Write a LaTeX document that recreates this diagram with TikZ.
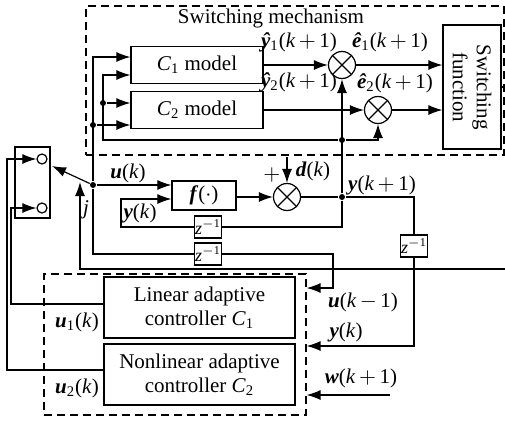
\documentclass[tikz,border=0pt]{standalone}
\usepackage{fontspec}
\setmainfont{Liberation Serif}
\usetikzlibrary{arrows.meta}

\newcommand{\vb}[1]{\textbf{\textit{#1}}}
\newcommand{\vi}[1]{\textit{#1}}

\begin{document}
\begin{tikzpicture}[x=0.5pt,y=-0.5pt,line width=0.6pt,
                    font=\fontsize{10.5}{12}\selectfont]

  \tikzset{
    blk/.style  = {draw, minimum width=66pt, minimum height=18.5pt,
                   inner sep=1pt, align=center},
    ctlb/.style = {blk, minimum width=95.5pt, minimum height=30.5pt},
    grp/.style  = {draw, dash pattern=on 4pt off 2.5pt, inner sep=0pt},
    sum/.style  = {draw, circle, minimum size=13.5pt, inner sep=0pt,
                   path picture={\draw
                     (path picture bounding box.north west) --
                     (path picture bounding box.south east)
                     (path picture bounding box.north east) --
                     (path picture bounding box.south west);}},
    dly/.style  = {draw, minimum width=13.5pt, minimum height=11pt,
                   inner sep=0pt, font=\small},
    jdot/.style = {circle, fill, minimum size=3pt, inner sep=0pt},
    port/.style = {circle, draw, minimum size=5pt, inner sep=0pt},
    arr/.style  = {-{Latex[length=7pt,width=5pt]}},
    lbl/.style  = {inner sep=1pt},
  }

  \useasboundingbox (0,0) rectangle (505,424);

  % ---- switching mechanism ----------------------------------------------
  \node[grp, minimum width=209pt, minimum height=74.5pt] (mech) at (295,80.5) {};
  \node[lbl] (title) at (271,18) {Switching mechanism};

  \node[blk] (c1m) at (197,65)  {\vi{C}\textsubscript{1} model};
  \node[blk] (c2m) at (197,110) {\vi{C}\textsubscript{2} model};
  \node[sum] (s1) at (342,65)  {};
  \node[sum] (s2) at (378,110) {};
  \node[draw, minimum width=29pt, minimum height=62pt] (sw) at (472,87) {};
  \node[rotate=-90, align=center] (swt) at (sw) {Switching\\function};
  \coordinate (swout) at (505,87);

  \node[jdot] (du) at (93,125)  {};
  \node[jdot] (dy) at (103,103) {};
  \node[jdot] (dm) at (342,140) {};
  \coordinate (utop) at (93,57);
  \coordinate (ytop) at (103,75);

  \draw[arr] (du) -- (du -| c2m.west);
  \draw[arr] (dy) -- (dy -| c2m.west);
  \draw[arr] (dm) -| (ytop) -- (ytop -| c1m.west);
  \draw[arr] (dm) -| (s2);
  \draw[arr] (c1m) -- (s1);
  \draw[arr] (c2m) -- (s2);
  \draw[arr] (s1) -- (s1 -| sw.west);
  \draw[arr] (s2) -- (s2 -| sw.west);
  \draw (sw) -- (swout);

  \node[lbl] at (299,42) {\vb{ŷ}\textsubscript{1}(\vi{k}\,$+$\,1)};
  \node[lbl] at (299,82) {\vb{ŷ}\textsubscript{2}(\vi{k}\,$+$\,1)};
  \node[lbl] at (390,42) {\vb{ê}\textsubscript{1}(\vi{k}\,$+$\,1)};
  \node[lbl] at (395,83) {\vb{ê}\textsubscript{2}(\vi{k}\,$+$\,1)};

  % ---- plant and delays -------------------------------------------------
  \node[jdot] (jn) at (93,185) {};
  \node[blk, minimum width=32pt, minimum height=14.5pt] (fb) at (204,195.5) {\vb{f}($\cdot$)};
  \node[sum] (s0) at (287,197) {};
  \node[jdot] (ydot) at (342,197) {};
  \node[dly] (z1) at (208,227) {\vi{z}\textsuperscript{$-$1}};
  \node[dly] (z2) at (208,254) {\vi{z}\textsuperscript{$-$1}};
  \node[dly] (z3) at (414,246) {\vi{z}\textsuperscript{$-$1}};
  \coordinate (dk) at (287,157);
  \coordinate (yk) at (121,199);

  \draw[arr] (jn) -- (utop) -- (utop -| c1m.west);
  \draw[arr] (jn) -- (jn -| fb.west);
  \draw[arr] (fb.east |- s0) -- (s0);
  \draw[arr] (dk) -- (s0);
  \draw (s0) -- (ydot);
  \draw[arr] (ydot) -- (s1);
  \draw (ydot) |- (z1);
  \draw[arr] (z1) -| (yk) -- (yk -| fb.west);
  \draw (ydot) -| (z3);
  \draw (jn) |- (z2);

  \node[lbl] at (128,173) {\vb{u}(\vi{k})};
  \node[lbl] at (140,213) {\vb{y}(\vi{k})};
  \node[lbl] at (272,175) {$+$};
  \node[lbl] at (313,171) {\vb{d}(\vi{k})};
  \node[lbl] at (382,185) {\vb{y}(\vi{k}\,$+$\,1)};

  % ---- switch -----------------------------------------------------------
  \node[draw, minimum width=17.5pt, minimum height=35.5pt] (swb) at (32.5,182.5) {};
  \node[port] (p1) at (42,159) {};
  \node[port] (p2) at (42,208) {};
  \coordinate (armtip) at (52,166);
  \coordinate (jtip) at (80,182);
  \coordinate (jr) at (505,269);
  \draw[arr] (jn) -- (armtip);
  \draw[arr] (jr) -| (jtip);
  \node[lbl] at (86,210) {\vi{j}};

  % ---- controllers ------------------------------------------------------
  \node[grp, minimum width=131pt, minimum height=70.5pt] (ctl) at (175,344.5) {};
  \node[ctlb] (lin)  at (199.5,307.5) {Linear adaptive\\controller \vi{C}\textsubscript{1}};
  \node[ctlb] (nlin) at (199.5,374.5) {Nonlinear adaptive\\controller \vi{C}\textsubscript{2}};
  \coordinate (c1) at (11,304);
  \coordinate (c2) at (7,370);
  \coordinate (uk1) at (333,288);
  \coordinate (yin) at (414,346);
  \coordinate (win) at (390,395);

  \draw[arr] (lin.west |- c1) -- (c1) |- (p2);
  \draw[arr] (nlin.west |- c2) -- (c2) |- (p1);
  \draw[arr] (z2) -| (uk1) -- (uk1 -| ctl.east);
  \draw[arr] (z3) |- (yin -| ctl.east);
  \draw[arr] (win) -- (win -| ctl.east);

  \node[lbl] at (77,322) {\vb{u}\textsubscript{1}(\vi{k})};
  \node[lbl] at (77,388) {\vb{u}\textsubscript{2}(\vi{k})};
  \node[lbl] at (363,302) {\vb{u}(\vi{k}\,$-$\,1)};
  \node[lbl] at (346,332) {\vb{y}(\vi{k})};
  \node[lbl] at (361,378) {\vb{w}(\vi{k}\,$+$\,1)};

\end{tikzpicture}
\end{document}
